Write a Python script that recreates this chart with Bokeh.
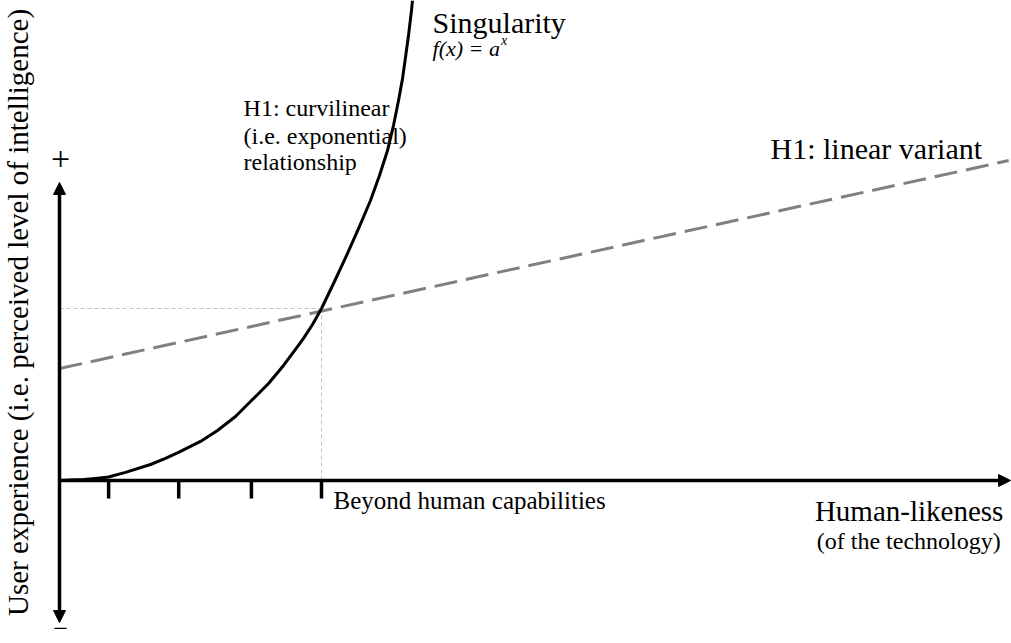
import math
from bokeh.plotting import figure
from bokeh.models import Range1d, Arrow, NormalHead
from bokeh.core.properties import value
from bokeh.embed import file_html
from bokeh.resources import INLINE

# ---- data (conceptual units: x = human-likeness, y = user experience) ----
curve_x = [0.0, 0.168, 0.366, 0.55, 0.748, 1.008, 1.389, 1.618, 1.817, 2.153, 2.412, 2.687,
           2.931, 3.191, 3.420, 3.603, 3.725, 3.863, 4.0, 4.198, 4.397, 4.580, 4.748,
           4.885, 5.008, 5.099, 5.176, 5.237, 5.282, 5.328, 5.374, 5.389]
curve_y = [0.0, 0.003, 0.006, 0.012, 0.020, 0.047, 0.093, 0.128, 0.163, 0.227, 0.291, 0.372,
           0.465, 0.564, 0.669, 0.762, 0.826, 0.907, 1.0, 1.157, 1.320, 1.477, 1.628,
           1.773, 1.919, 2.064, 2.209, 2.337, 2.459, 2.587, 2.733, 2.791]
linear_x = [0.0, 14.49]
linear_y = [0.651, 1.860]
tick_x = [0.75, 1.82, 2.93, 4.0]
threshold_x = 4.0
threshold_y = 1.0

FONT = value("Liberation Serif")

p = figure(width=1011, height=643, output_backend="svg", toolbar_location=None,
           x_range=Range1d(-0.9008, 14.534), y_range=Range1d(-0.9477, 2.7907),
           min_border=0, outline_line_color=None)
p.axis.visible = False
p.grid.visible = False

# guide lines to threshold
p.line([0, threshold_x], [threshold_y, threshold_y], line_color="#c0c0c0", line_width=1, line_dash="4 3")
p.line([threshold_x, threshold_x], [0, threshold_y], line_color="#c0c0c0", line_width=1, line_dash="4 3")

# linear variant
p.line(linear_x, linear_y, line_color="#808080", line_width=3, line_dash="23 9")

# exponential curve
p.line(curve_x, curve_y, line_color="black", line_width=3, line_join="round")

# axes arrows
p.add_layout(Arrow(x_start=0, y_start=-0.826, x_end=0, y_end=1.733,
                   line_width=3.5, line_color="black",
                   start=NormalHead(size=12, fill_color="black", line_color="black"),
                   end=NormalHead(size=12, fill_color="black", line_color="black")))
p.add_layout(Arrow(x_start=0, y_start=0, x_end=14.52, y_end=0,
                   line_width=3.5, line_color="black",
                   end=NormalHead(size=12, fill_color="black", line_color="black")))

# ticks
p.segment(x0=tick_x, y0=[0]*4, x1=tick_x, y1=[-0.105]*4, line_color="black", line_width=3.5)

# texts
def txt(x, y, s, size, align="left", baseline="middle", style="normal", angle=0):
    p.text(x=[x], y=[y], text=[s], text_font=FONT, text_font_size=value(f"{size}px"),
           text_align=align, text_baseline=baseline, text_font_style=style,
           text_color="black", angle=angle)

txt(5.695, 2.663, "Singularity", 30)
txt(5.695, 2.512, "f(x) = a", 22, style="italic")
txt(6.74, 2.56, "x", 14, style="italic")

txt(2.81, 2.163, "H1: curvilinear", 24)
txt(2.81, 2.00, "(i.e. exponential)", 24)
txt(2.81, 1.849, "relationship", 24)

txt(10.855, 1.930, "H1: linear variant", 30)

txt(4.183, -0.116, "Beyond human capabilities", 25)
txt(14.41, -0.180, "Human-likeness", 29, align="right")
txt(14.37, -0.349, "(of the technology)", 24, align="right")

txt(-0.626, 0.977, "User experience (i.e. perceived level of intelligence)", 29,
    align="center", angle=math.pi / 2)

txt(0.015, 1.872, "+", 34, align="center")
txt(0.015, -0.862, "\u2212", 26, align="center")

open("out.html", "w").write(file_html(p, INLINE))
